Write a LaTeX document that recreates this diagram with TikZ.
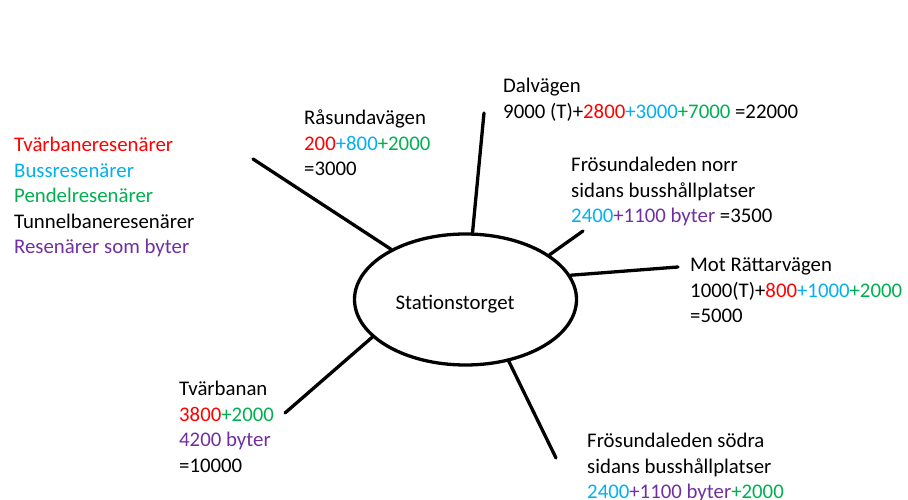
\documentclass[tikz,border=0pt]{standalone}
\usepackage{fontspec}
\setmainfont{Carlito}
\usetikzlibrary{shapes.geometric}
\definecolor{cred}{HTML}{FF0000}
\definecolor{cblue}{HTML}{00B0F0}
\definecolor{cgreen}{HTML}{00B050}
\definecolor{cpurple}{HTML}{7030A0}
\tikzset{
  % multi-line labels, anchored at the baseline of their last line
  lbl/.style={font=\fontsize{20.8}{25.4}\selectfont, align=left, anchor=base west, inner sep=0pt},
  spoke/.style={line width=3.3pt, line cap=round},
  hub/.style={ellipse, draw, line width=3.3pt, minimum width=222pt, minimum height=131pt, inner sep=0pt}
}
\begin{document}
\begin{tikzpicture}[x=1pt,y=1pt]
\useasboundingbox (0,0) rectangle (908,500);

% central square
\node[hub] (st) at (465.5,200.5) {};
\node[font=\fontsize{20.8}{25.4}\selectfont, anchor=base, inner sep=0pt] (stlabel) at (455,190) {Stationstorget};

% free ends of the spokes
\coordinate (e1) at (253,341);
\coordinate (e2) at (484,387);
\coordinate (e3) at (583,269);
\coordinate (e4) at (678,233);
\coordinate (e5) at (285,87);
\coordinate (e6) at (556,42);

\draw[spoke] (st.146) -- (e1);
\draw[spoke] (st.84.5) -- (e2);
\draw[spoke] (st.28.8) -- (e3);
\draw[spoke] (st.13.7) -- (e4);
\draw[spoke] (st.202.4) -- (e5);
\draw[spoke] (st.-55.6) -- (e6);

% legend
\node[lbl] (legend) at (14,246.4) {\textcolor{cred}{Tvärbaneresenärer}\\
  \textcolor{cblue}{Bussresenärer}\\
  \textcolor{cgreen}{Pendelresenärer}\\
  Tunnelbaneresenärer\\
  \textcolor{cpurple}{Resenärer som byter}};

% counts per entrance
\node[lbl] (rasunda) at (304,324.2) {Råsundavägen\\
  \textcolor{cred}{200}\textcolor{cblue}{+800}\textcolor{cgreen}{+2000}\\
  =3000};

\node[lbl] (dal) at (503,381.6) {Dalvägen\\
  9000 (T)+\textcolor{cred}{2800}\textcolor{cblue}{+3000}\textcolor{cgreen}{+7000} =22000};

\node[lbl] (norr) at (571,277.2) {Frösundaleden norr\\
  sidans busshållplatser\\
  \textcolor{cblue}{2400}\textcolor{cpurple}{+1100 byter} =3500};

\node[lbl] (ratt) at (690,177.2) {Mot Rättarvägen\\
  1000(T)+\textcolor{cred}{800}\textcolor{cblue}{+1000}\textcolor{cgreen}{+2000}\\
  =5000};

\node[lbl] (tvar) at (179,27.8) {Tvärbanan\\
  \textcolor{cred}{3800}\textcolor{cgreen}{+2000}\\
  \textcolor{cpurple}{4200 byter}\\
  =10000};

\node[lbl] (sodra) at (587,1.2) {Frösundaleden södra\\
  sidans busshållplatser\\
  \textcolor{cblue}{2400}\textcolor{cpurple}{+1100 byter}\textcolor{cgreen}{+2000}};
\end{tikzpicture}
\end{document}
